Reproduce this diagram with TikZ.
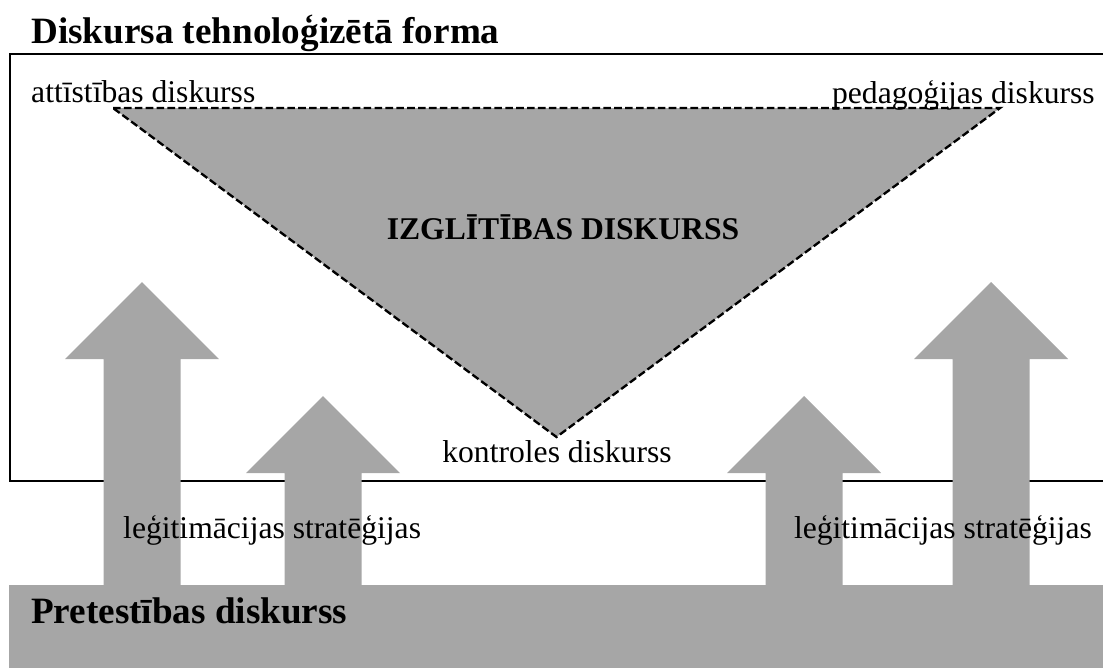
\documentclass[tikz,border=0pt]{standalone}
\usepackage{fontspec}
\setmainfont{Liberation Serif}
\usetikzlibrary{positioning}
\definecolor{shadegray}{HTML}{A6A6A6}
\tikzset{
  plain/.style={font=\fontsize{27}{32}\selectfont, inner sep=0pt},
  heading/.style={font=\fontsize{31.7}{38}\selectfont\bfseries, inner sep=0pt},
  boldplain/.style={font=\fontsize{27}{32}\selectfont\bfseries, inner sep=0pt},
}

\begin{document}
\begin{tikzpicture}[x=0.03cm, y=-0.03cm]
            \useasboundingbox (0,0) rectangle (1103,668);

            % frame, open to the right
            \draw[line width=2.4pt] (1103,54) -- (10,54) -- (10,481) -- (1103,481);
            \node (title) [heading, anchor=base west] at (31,43) {Diskursa tehnoloģizētā forma};

            \coordinate (tl) at (113,108);
            \coordinate (tr) at (1000,108);
            \coordinate (tb) at (556.5,437);
            \filldraw[fill=shadegray, line width=2pt, dash pattern=on 6.5pt off 2.8pt] (tl) -- (tr) -- (tb) -- cycle;

            \node (devel) [plain, anchor=base west] at (31,102)  {attīstības diskurss};
            \node (pedag) [plain, anchor=base east] at (1095,103) {pedagoģijas diskurss};
            \node (edu)   [boldplain, anchor=base] at (563,239)  {IZGLĪTĪBAS DISKURSS};
            \node (ctrl)  [plain, anchor=base] at (557,462)      {kontroles diskurss};

            \foreach \cx/\ty in {142/282, 323/396, 804/396, 991/282}
                \fill[shadegray] ({\cx-38.5},585) -- ({\cx-38.5},{\ty+77}) -- ({\cx-77},{\ty+77}) -- (\cx,\ty)
                    -- ({\cx+77},{\ty+77}) -- ({\cx+38.5},{\ty+77}) -- ({\cx+38.5},585) -- cycle;

            \fill[shadegray] (9,585) rectangle (1103,668);
            \node (resist) [heading, anchor=base west] at (31,623) {Pretestības diskurss};

            \node (legl) [plain, anchor=base west] at (123,538)  {leģitimācijas stratēģijas};
            \node (legr) [plain, anchor=base east] at (1092,538) {leģitimācijas stratēģijas};
        \end{tikzpicture}
\end{document}
